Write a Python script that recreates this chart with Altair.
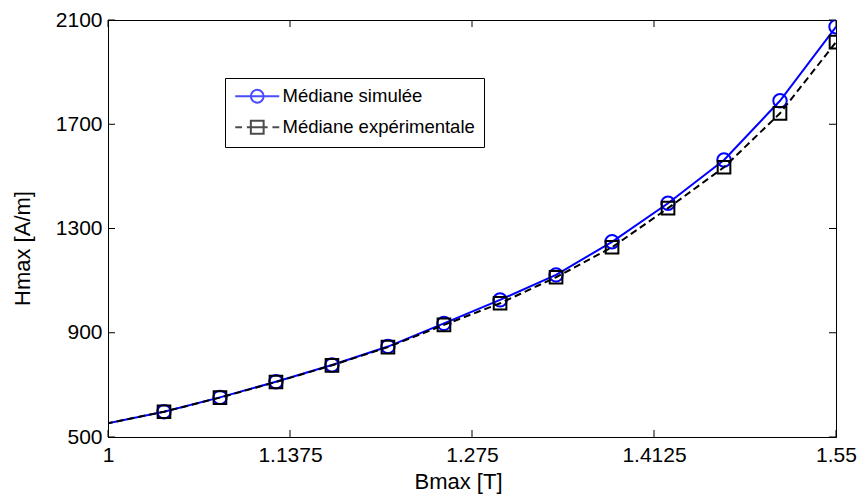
import altair as alt
import pandas as pd

FONT = "Liberation Sans"

# Data
bmax = [0.9577, 1.0423, 1.0846, 1.1269, 1.1692, 1.2115, 1.2538, 1.2962,
        1.3385, 1.3808, 1.4231, 1.4654, 1.5077, 1.55]
h_sim = [509, 597, 652, 712, 776, 847, 936, 1026, 1122, 1249, 1397, 1563, 1790, 2074]
h_exp = [509, 597, 651, 711, 775, 845, 930, 1013, 1113, 1228, 1378, 1535, 1742, 2015]

series_names = ["Médiane simulée", "Médiane expérimentale"]
x_ticks = [1, 1.1375, 1.275, 1.4125, 1.55]
y_ticks = [500, 900, 1300, 1700, 2100]

W, H = 728, 417

df_sim = pd.DataFrame({"B": bmax, "Hm": h_sim})
df_exp = pd.DataFrame({"B": bmax, "Hm": h_exp})
df_xt = pd.DataFrame({"B": x_ticks})
df_yt = pd.DataFrame({"Hm": y_ticks})
df_leg = pd.DataFrame({"s": series_names, "B": [0.9, 0.9], "Hm": [1000, 1000]})

xscale = alt.Scale(domain=[1, 1.55], nice=False, zero=False)
yscale = alt.Scale(domain=[500, 2100], nice=False, zero=False)

x_axis = alt.Axis(values=x_ticks, labelExpr="'' + datum.value", title="Bmax [T]",
                  grid=False, ticks=False, domain=True, domainColor="black",
                  domainWidth=1, labelFont=FONT, labelFontSize=21, labelColor="black",
                  labelPadding=7, labelBaseline="top", titleFont=FONT, titleFontSize=22,
                  titleFontWeight="normal", titleColor="black", titleBaseline="middle",
                  titleY=44, titleX=350, labelOverlap=False, labelFlush=False)
y_axis = alt.Axis(values=y_ticks, format="d", title="Hmax [A/m]",
                  grid=False, ticks=False, domain=True, domainColor="black",
                  domainWidth=1, labelFont=FONT, labelFontSize=21, labelColor="black",
                  labelPadding=6, titleFont=FONT, titleFontSize=22,
                  titleFontWeight="normal", titleColor="black", titleBaseline="middle",
                  titleX=-86, titleY=228, labelOverlap=False, labelFlush=False)

X = alt.X("B:Q", scale=xscale, axis=x_axis)
Y = alt.Y("Hm:Q", scale=yscale, axis=y_axis)

sim_line = alt.Chart(df_sim).mark_line(color="#0000ff", strokeWidth=2, clip=True).encode(x=X, y=Y)
sim_pts = alt.Chart(df_sim).mark_point(shape="circle", size=180, filled=False, color="#0000ff",
                                        strokeWidth=2, opacity=1, clip=True).encode(x=X, y=Y)
exp_line = alt.Chart(df_exp).mark_line(color="black", strokeWidth=2, strokeDash=[7, 4],
                                        clip=True).encode(x=X, y=Y)
exp_pts = alt.Chart(df_exp).mark_point(shape="square", size=160, filled=False, color="black",
                                        strokeWidth=2, opacity=1, clip=True).encode(x=X, y=Y)

TL = 7
xt_bot = alt.Chart(df_xt).mark_rule(color="black", strokeWidth=1).encode(
    x=X, y=alt.value(H), y2=alt.value(H - TL))
xt_top = alt.Chart(df_xt).mark_rule(color="black", strokeWidth=1).encode(
    x=X, y=alt.value(0), y2=alt.value(TL))
yt_left = alt.Chart(df_yt).mark_rule(color="black", strokeWidth=1).encode(
    y=Y, x=alt.value(0), x2=alt.value(TL))
yt_right = alt.Chart(df_yt).mark_rule(color="black", strokeWidth=1).encode(
    y=Y, x=alt.value(W - TL), x2=alt.value(W))

path_sim = "M-2.75,0L2.75,0M0.8,0A0.8,0.8,0,1,1,-0.8,0A0.8,0.8,0,1,1,0.8,0"
path_exp = ("M-2.75,0L-1.9,0M-1.3,0L1.3,0M1.9,0L2.75,0"
            "M-0.8,-0.8L0.8,-0.8L0.8,0.8L-0.8,0.8Z")

legend = alt.Legend(title=None, orient="none", legendX=117, legendY=58,
                    strokeColor="black", fillColor="white", padding=9,
                    symbolOffset=14, labelFont=FONT, labelFontSize=18.5, labelColor="black",
                    symbolSize=256, symbolStrokeWidth=2, labelOffset=16,
                    rowPadding=9, labelLimit=500, cornerRadius=0)

leg_layer = alt.Chart(df_leg).mark_point(filled=False, strokeWidth=2, size=256, clip=True).encode(
    x=X, y=Y,
    color=alt.Color("s:N", scale=alt.Scale(domain=series_names, range=["#0000ff", "#000000"]),
                    legend=legend, sort=series_names),
    shape=alt.Shape("s:N", scale=alt.Scale(domain=series_names, range=[path_sim, path_exp]),
                    legend=legend, sort=series_names),
)

chart = alt.layer(sim_line, sim_pts, exp_line, exp_pts, xt_bot, xt_top, yt_left, yt_right,
                  leg_layer).properties(
    width=W, height=H,
    autosize=alt.AutoSizeParams(type="none"),
    padding={"left": 100, "top": 12, "right": 22, "bottom": 57},
    background="white",
).configure_view(stroke="black", strokeWidth=1)

chart.save("out.html", embed_options={"renderer": "svg", "actions": False})
